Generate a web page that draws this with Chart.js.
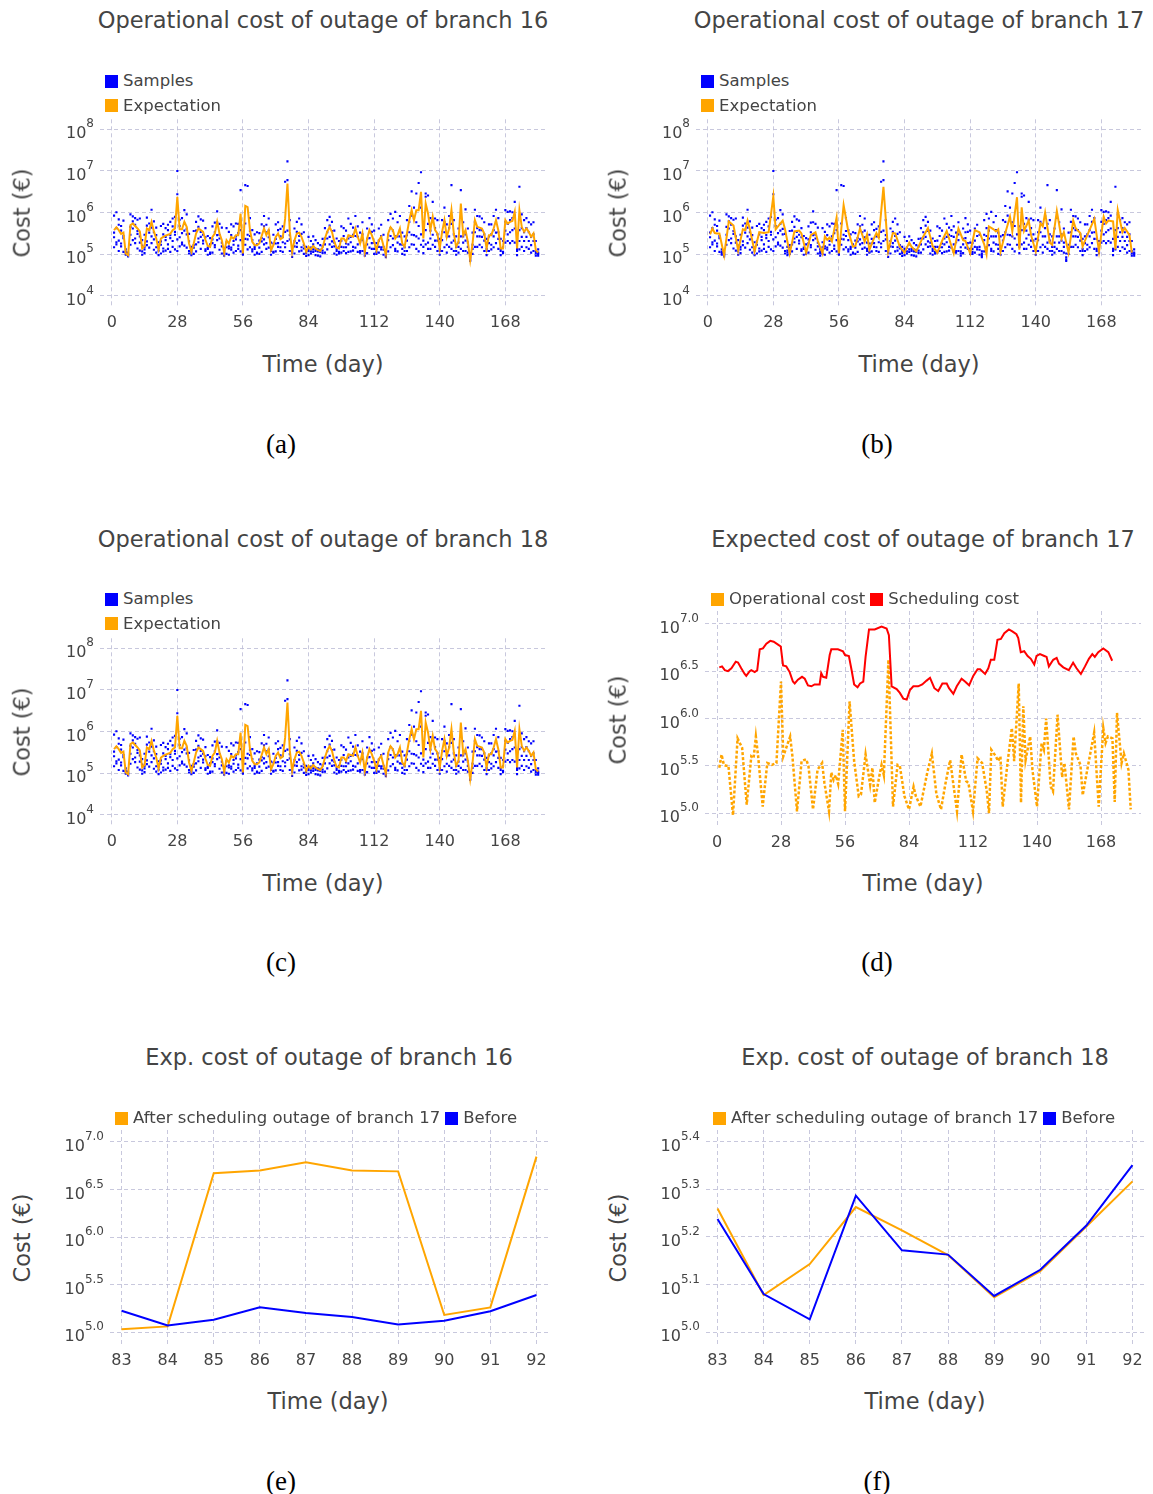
<!DOCTYPE html>
<html>
<head>
<meta charset="utf-8">
<script src="https://cdn.jsdelivr.net/npm/chart.js@4.4.1/dist/chart.umd.min.js"></script>
<style>
  html, body { margin: 0; padding: 0; background: #fff; }
  body { position: relative; width: 1153px; height: 1494px; overflow: hidden;
         font-family: "DejaVu Sans", sans-serif; color: #444; }
  .t { position: absolute; white-space: nowrap; line-height: 1; }
  .c { transform: translate(-50%, -50%); }
  .rot { transform: translate(-50%, -50%) rotate(-90deg); }
  .cap { font-family: "Liberation Serif", "DejaVu Serif", serif; color: #000; font-size: 27px; }
  .leg { position: absolute; display: flex; align-items: center; font-size: 16.5px; line-height: 1; white-space: nowrap; }
  .sw { display: inline-block; width: 13px; height: 13px; margin-right: 5px; }
  canvas { position: absolute; }
</style>
</head>
<body>
<script>
// ---- tick positions ----
const dayTicks = [0, 28, 56, 84, 112, 140, 168];
const weekTicks = [83, 84, 85, 86, 87, 88, 89, 90, 91, 92];
const decadeTicks = [4, 5, 6, 7, 8];
const halfDecadeTicks = [5.0, 5.5, 6.0, 6.5, 7.0];
const tenthTicks = [5.0, 5.1, 5.2, 5.3, 5.4];

// ---- expected operational cost, branch 16 (log10 €), days 1..182 ----
const exp16 = [
  5.58,5.65,5.58,5.49,5.52,5.02,4.98,5.70,5.74,5.68,5.62,5.55,5.14,5.20,
  5.62,5.58,5.78,5.55,5.38,5.12,5.38,5.42,5.45,5.47,5.49,5.58,5.62,6.38,
  5.60,5.60,5.78,5.66,5.26,5.06,5.26,5.50,5.62,5.58,5.54,5.35,5.20,5.18,
  5.42,5.50,5.78,5.50,5.34,5.04,5.34,5.26,5.42,5.38,5.46,5.46,5.98,5.02,
  6.16,6.13,5.58,5.30,5.22,5.22,5.26,5.44,5.62,5.46,5.58,5.10,5.22,5.42,
  5.50,5.36,5.40,5.85,6.70,5.55,5.06,5.34,5.50,5.52,5.42,5.26,5.06,5.18,
  5.12,5.20,5.14,5.10,5.08,5.16,5.38,5.55,5.65,5.54,5.30,5.16,5.14,5.38,
  5.38,5.30,5.46,5.44,5.42,5.62,5.42,5.26,5.50,5.06,5.38,5.58,5.46,5.30,
  5.10,5.34,5.42,5.20,5.00,5.50,5.65,5.58,5.38,5.46,5.62,5.26,5.18,5.50,
  5.82,6.06,5.82,6.06,6.06,6.50,5.38,6.22,5.98,5.58,5.90,5.58,5.50,5.14,
  5.54,5.82,5.42,5.62,6.06,5.50,5.18,5.30,6.22,5.46,5.58,5.30,4.86,5.26,
  5.82,5.66,5.64,5.62,5.50,5.14,5.46,5.46,5.62,5.82,5.58,5.14,5.14,5.82,
  5.74,5.78,5.80,6.02,5.14,6.06,5.66,5.54,5.62,5.54,5.42,5.50,5.10,5.04
];

// ---- expected operational cost, branch 17 (log10 €) ----
const days17 = [1,2,3,4,5,7,9,11,13,15,16,17,18,20,22,24,26,28,29,30,32,33,35,37,39,40,42,44,46,47,
  49,50,51,52,53,55,56,58,60,62,63,65,67,68,69,71,72,73,75,77,79,80,82,84,86,87,89,92,94,96,
  98,100,102,105,107,109,110,112,114,116,118,119,120,122,123,124,125,127,129,130,132,133,134,135,137,
  138,140,142,143,144,146,147,149,151,152,154,156,157,159,160,162,165,167,169,170,171,173,174,175,177,
  178,180,181];
const exp17 = [5.48,5.62,5.51,5.50,5.50,4.98,5.79,5.69,5.09,5.60,5.58,5.81,5.60,5.07,5.53,5.51,5.53,6.39,5.60,5.67,
  5.81,5.60,5.02,5.55,5.57,5.50,5.04,5.46,5.53,5.32,5.02,5.43,5.35,5.40,5.31,5.88,5.02,6.18,5.55,5.18,
  5.20,5.62,5.30,5.48,5.11,5.39,5.51,5.40,6.62,5.07,5.51,5.50,5.18,5.04,5.28,5.18,5.07,5.43,5.63,5.20,
  5.04,5.32,5.56,5.02,5.62,5.34,5.32,5.02,5.58,5.53,5.24,5.00,5.67,5.60,5.55,5.60,5.07,5.51,5.90,5.55,
  6.37,5.11,6.13,5.56,5.81,5.46,5.07,5.74,5.67,6.00,5.28,5.23,6.04,5.38,5.53,5.04,5.81,5.63,5.51,5.19,
  5.46,5.85,5.07,5.90,5.74,5.81,5.79,5.12,6.06,5.53,5.63,5.46,5.04];

// ---- scheduling cost of the branch 17 outage by start day (log10 €) ----
const schedDays = [1.0,2.2,3.4,4.8,6.3,8.2,9.2,10.6,12.1,12.8,14.3,15.0,16.5,17.6,18.7,20.1,21.6,23.3,24.8,26.7,
  27.9,28.9,30.3,31.8,33.2,34.0,35.4,37.2,38.4,39.8,41.3,42.7,44.9,45.6,46.4,47.8,49.3,50.0,52.9,55.1,
  56.0,57.7,58.9,60.0,61.5,62.6,64.0,65.0,66.5,69.0,72.0,74.2,75.2,76.4,78.6,80.0,81.5,83.0,84.4,85.9,
  88.0,89.8,91.7,93.2,95.1,96.8,98.6,100.5,101.5,103.4,104.9,107.0,108.5,110.3,112.1,114.0,115.1,117.3,118.7,119.8,
  121.3,122.7,124.2,125.7,127.7,129.2,131.0,131.8,132.9,134.4,135.9,137.3,138.8,139.8,141.3,143.2,144.2,145.2,147.1,148.6,
  149.6,151.5,153.9,155.8,157.3,159.2,161.0,162.7,164.2,165.3,166.8,169.0,171.2,172.9];
const schedLog = [6.54,6.55,6.51,6.50,6.53,6.60,6.59,6.53,6.47,6.45,6.50,6.51,6.49,6.51,6.73,6.74,6.79,6.82,6.81,6.78,
  6.76,6.56,6.55,6.49,6.39,6.37,6.41,6.44,6.42,6.35,6.34,6.36,6.36,6.48,6.44,6.43,6.67,6.73,6.73,6.71,
  6.67,6.66,6.51,6.36,6.33,6.37,6.39,6.65,6.94,6.94,6.97,6.95,6.88,6.34,6.31,6.27,6.21,6.20,6.30,6.34,
  6.34,6.36,6.40,6.43,6.32,6.29,6.37,6.37,6.32,6.26,6.34,6.42,6.39,6.35,6.45,6.52,6.52,6.47,6.53,6.62,
  6.62,6.83,6.84,6.90,6.94,6.92,6.89,6.85,6.70,6.71,6.66,6.63,6.57,6.66,6.68,6.66,6.65,6.55,6.62,6.64,
  6.58,6.54,6.51,6.59,6.53,6.47,6.55,6.63,6.68,6.65,6.70,6.74,6.70,6.61];

// ---- cost samples per day (log10 €), days 1..182 ----
const samples = [
  [5.93,5.52,5.41,5.17],[6.01,5.63,5.29,5.24],[5.84,5.71,5.33,5.08],[5.68,5.57,5.26,5.19],[5.81,5.39,5.44,5.06],[5.12,5.03,4.99,5.06],[5.04,4.98,4.95,5.01],
  [5.96,5.66,5.47,5.23],[5.91,5.79,5.62,5.34],[5.87,5.71,5.38,5.27],[5.83,5.56,5.49,5.14],[5.86,5.43,5.28,5.09],[5.34,5.21,5.07,4.99],[5.47,5.18,5.12,5.03],
  [5.88,5.69,5.31,5.22],[5.74,5.59,5.52,5.16],[6.07,5.64,5.43,5.27],[5.79,5.53,5.36,5.11],[5.64,5.46,5.17,5.04],[5.29,5.09,5.16,4.98],[5.68,5.31,5.23,5.02],
  [5.73,5.48,5.14,5.07],[5.63,5.42,5.34,5.09],[5.71,5.58,5.24,5.13],[5.78,5.46,5.39,5.06],[5.86,5.67,5.32,5.18],[5.90,5.54,5.47,5.12],[7.00,6.44,5.36,5.08],
  [5.83,5.68,5.41,5.19],[5.87,5.51,5.28,5.24],[6.06,5.73,5.57,5.21],[5.96,5.61,5.48,5.16],[5.49,5.31,5.08,5.02],[5.18,5.04,5.09,4.98],[5.56,5.22,5.16,5.01],
  [5.78,5.57,5.24,5.07],[5.91,5.66,5.38,5.29],[5.84,5.54,5.42,5.13],[5.81,5.47,5.33,5.26],[5.63,5.41,5.12,5.08],[5.44,5.16,5.13,4.99],[5.39,5.24,5.04,5.01],
  [5.67,5.36,5.27,5.04],[5.76,5.53,5.22,5.17],[6.03,5.77,5.46,5.34],[5.73,5.47,5.38,5.11],[5.64,5.28,5.19,5.02],[5.13,5.03,5.07,4.97],[5.63,5.29,5.17,5.01],
  [5.54,5.19,5.14,4.99],[5.72,5.46,5.16,5.11],[5.67,5.32,5.23,5.04],[5.74,5.43,5.36,5.08],[5.73,5.51,5.21,5.13],[6.54,5.58,5.34,5.07],[5.11,5.02,4.99,5.05],
  [6.66,5.74,5.37,5.23],[6.64,5.47,5.36,5.12],[5.87,5.56,5.44,5.17],[5.58,5.34,5.12,5.07],[5.48,5.18,5.13,4.99],[5.53,5.24,5.04,5.02],[5.51,5.33,5.16,5.01],
  [5.72,5.39,5.31,5.06],[5.92,5.67,5.36,5.24],[5.71,5.53,5.27,5.13],[5.86,5.57,5.41,5.16],[5.28,5.08,5.13,4.99],[5.47,5.26,5.06,5.04],[5.72,5.37,5.26,5.07],
  [5.77,5.58,5.27,5.18],[5.61,5.43,5.17,5.08],[5.67,5.42,5.29,5.06],[6.74,5.54,5.26,5.17],[7.23,6.78,5.57,5.32],[5.82,5.46,5.36,5.08],[5.17,5.04,5.08,4.94],
  [5.62,5.32,5.19,5.02],[5.78,5.54,5.27,5.18],[5.86,5.44,5.33,5.07],[5.72,5.49,5.17,5.09],[5.53,5.22,5.14,5.01],[5.18,5.03,5.08,4.96],[5.42,5.13,5.08,4.98],
  [5.32,5.16,5.02,5.07],[5.43,5.24,5.06,5.12],[5.34,5.13,5.08,4.98],[5.27,5.07,5.12,4.97],[5.22,5.06,5.11,4.95],[5.37,5.19,5.03,5.09],[5.63,5.38,5.24,5.04],
  [5.82,5.53,5.38,5.12],[5.90,5.69,5.42,5.24],[5.78,5.56,5.31,5.18],[5.57,5.28,5.19,5.02],[5.38,5.13,5.08,4.99],[5.32,5.18,5.02,5.06],[5.67,5.33,5.18,5.04],
  [5.63,5.44,5.17,5.08],[5.57,5.26,5.17,5.03],[5.86,5.38,5.24,5.06],[5.73,5.42,5.29,5.07],[5.64,5.47,5.18,5.09],[5.92,5.58,5.44,5.16],[5.67,5.42,5.24,5.06],
  [5.52,5.29,5.08,5.04],[5.77,5.48,5.34,5.08],[5.17,5.02,5.07,4.97],[5.62,5.37,5.24,5.03],[5.87,5.53,5.39,5.16],[5.72,5.54,5.27,5.13],[5.57,5.28,5.13,5.01],
  [5.27,5.13,5.01,5.06],[5.62,5.33,5.18,5.04],[5.71,5.44,5.17,5.12],[5.47,5.18,5.11,4.99],[5.07,5.01,4.96,4.93],[5.82,5.47,5.34,5.07],[5.97,5.63,5.44,5.17],
  [5.86,5.57,5.38,5.22],[6.02,5.43,5.13,5.08],[5.77,5.43,5.28,5.07],[5.92,5.58,5.43,5.24],[5.52,5.23,5.13,5.01],[5.43,5.17,5.08,4.99],[5.82,5.46,5.33,5.08],
  [6.16,5.78,5.53,5.17],[6.51,5.93,5.47,5.24],[6.12,5.87,5.46,5.23],[6.46,5.77,5.43,5.13],[6.71,5.68,5.38,5.07],[6.97,6.12,5.48,5.23],[5.67,5.33,5.18,5.03],
  [6.46,6.38,5.58,5.24],[6.41,5.73,5.28,5.13],[5.87,5.57,5.38,5.13],[6.26,5.83,5.47,5.23],[5.86,5.63,5.33,5.18],[5.82,5.48,5.33,5.08],[5.37,5.13,5.08,4.99],
  [5.82,5.53,5.34,5.08],[6.12,5.78,5.53,5.17],[5.72,5.43,5.23,5.04],[5.92,5.63,5.43,5.18],[6.66,5.73,5.28,5.13],[5.82,5.48,5.33,5.08],[5.43,5.18,5.08,4.99],
  [5.62,5.28,5.18,5.04],[6.54,5.88,5.43,5.13],[5.77,5.43,5.28,5.08],[6.08,5.48,5.33,5.08],[5.62,5.28,5.18,5.04],[5.02,4.93,4.88,4.84],[5.52,5.23,5.13,5.01],
  [6.07,5.78,5.53,5.18],[5.92,5.63,5.43,5.18],[5.91,5.58,5.43,5.23],[5.86,5.58,5.42,5.17],[5.77,5.48,5.33,5.08],[5.37,5.13,5.08,4.98],[5.72,5.43,5.27,5.08],
  [5.72,5.48,5.23,5.12],[5.92,5.58,5.43,5.17],[6.07,5.78,5.52,5.27],[5.87,5.53,5.37,5.13],[5.37,5.13,5.08,4.98],[5.32,5.17,5.03,5.06],[6.06,5.78,5.57,5.28],
  [6.02,5.73,5.48,5.32],[6.03,5.82,5.53,5.27],[6.01,5.87,5.58,5.32],[6.26,5.93,5.62,5.28],[5.37,5.13,5.08,4.98],[6.62,5.58,5.32,5.12],[5.96,5.63,5.42,5.18],
  [5.82,5.53,5.32,5.08],[5.87,5.63,5.42,5.17],[5.77,5.53,5.32,5.13],[5.72,5.42,5.22,5.04],[5.77,5.48,5.32,5.08],[5.32,5.08,5.03,4.97],[5.12,5.04,5.01,4.97]
];

// ---- expected cost over the days 83..92 (log10 €) ----
const weekDays = [83, 84, 85, 86, 87, 88, 89, 90, 91, 92];
const after16 = [5.03, 5.06, 6.67, 6.70, 6.785, 6.70, 6.69, 5.18, 5.26, 6.845];
const before16 = [5.225, 5.07, 5.13, 5.26, 5.20, 5.16, 5.08, 5.12, 5.22, 5.39];
const after18 = [5.26, 5.078, 5.143, 5.263, 5.214, 5.162, 5.073, 5.128, 5.222, 5.317];
const before18 = [5.238, 5.08, 5.027, 5.287, 5.172, 5.163, 5.076, 5.131, 5.224, 5.351];

// ---------------------------------------------------------------
const BLUE = '#0000ff', ORANGE = '#ffa500', RED = '#ff0000';
const GRID = 'rgba(190,190,215,0.85)';
const FONT = '"DejaVu Sans", sans-serif';

const pts = (xs, logs) => logs.map((v, i) => ({ x: xs[i], y: Math.pow(10, v) }));
const daily = logs => logs.map((v, i) => ({ x: i + 1, y: Math.pow(10, v) }));
const samplePts = rows => rows.flatMap((r, i) => r.map(v => ({ x: i + 1, y: Math.pow(10, v) })));

function text(str, x, y, cls, size) {
  const d = document.createElement('div');
  d.className = 't ' + cls;
  d.textContent = str;
  d.style.left = x + 'px';
  d.style.top = y + 'px';
  if (size) d.style.fontSize = size + 'px';
  document.body.appendChild(d);
}

function legend(items, x, y, vertical) {
  items.forEach((it, k) => {
    const row = document.createElement('div');
    row.className = 'leg';
    const sw = document.createElement('span');
    sw.className = 'sw';
    sw.style.background = it.color;
    row.appendChild(sw);
    row.appendChild(document.createTextNode(it.label));
    row.style.left = x + 'px';
    row.style.top = (y - 8 + (vertical ? k * 24.5 : 0)) + 'px';
    document.body.appendChild(row);
    if (!vertical) x += row.getBoundingClientRect().width + 5;
  });
}

// tick labels: plain numbers on x, powers of ten with superscript exponent on y
const tickText = {
  id: 'tickText',
  afterDraw(chart, args, opts) {
    const { ctx, chartArea } = chart;
    const xs = chart.scales.x, ys = chart.scales.y;
    ctx.save();
    ctx.fillStyle = '#444';
    ctx.textBaseline = 'middle';
    ctx.font = '16px ' + FONT;
    ctx.textAlign = 'center';
    xs.ticks.forEach(t => ctx.fillText(String(t.value), xs.getPixelForValue(t.value), chartArea.bottom + 17));
    ys.ticks.forEach(t => {
      const sup = Math.log10(t.value).toFixed(opts.dec);
      const y = ys.getPixelForValue(t.value);
      ctx.font = '12px ' + FONT;
      const sw = ctx.measureText(sup).width;
      ctx.font = '16px ' + FONT;
      const bw = ctx.measureText('10').width;
      const right = chartArea.left - 6;
      ctx.textAlign = 'left';
      ctx.fillText('10', right - sw - bw, y + 5);
      ctx.font = '12px ' + FONT;
      ctx.fillText(sup, right - sw, y - 5);
    });
    ctx.restore();
  }
};

function panel(p) {
  const padL = 75, padT = 12, padR = 12, padB = 32;
  const cv = document.createElement('canvas');
  const cx = Math.round(p.L - padL), cy = Math.round(p.T - padT);
  const cw = Math.round(p.R + padR) - cx, ch = Math.round(p.B + padB) - cy;
  cv.width = cw; cv.height = ch;
  cv.style.left = cx + 'px'; cv.style.top = cy + 'px';
  cv.style.width = cw + 'px'; cv.style.height = ch + 'px';
  document.body.appendChild(cv);
  const gridOpts = { color: GRID, lineWidth: 1, drawTicks: false };
  const borderOpts = { display: false, dash: [4, 3] };
  new Chart(cv, {
    type: 'scatter',
    data: { datasets: p.datasets },
    options: {
      responsive: false, animation: false, devicePixelRatio: 1,
      layout: { padding: { left: p.L - cx, top: p.T - cy, right: cx + cw - p.R, bottom: cy + ch - p.B } },
      plugins: { legend: { display: false }, tooltip: { enabled: false }, tickText: { dec: p.dec } },
      scales: {
        x: {
          type: 'linear', min: p.xr[0], max: p.xr[1],
          afterBuildTicks: s => { s.ticks = p.xt.map(v => ({ value: v })); },
          afterFit: s => { s.height = 0; },
          ticks: { display: false }, grid: gridOpts, border: borderOpts
        },
        y: {
          type: 'logarithmic', min: Math.pow(10, p.yr[0]), max: Math.pow(10, p.yr[1]),
          afterBuildTicks: s => { s.ticks = p.yt.map(v => ({ value: Math.pow(10, v) })); },
          afterFit: s => { s.width = 0; },
          ticks: { display: false }, grid: gridOpts, border: borderOpts
        }
      }
    },
    plugins: [tickText]
  });
}

const lineDs = (label, data, color, extra) => Object.assign({
  label, data, showLine: true, borderColor: color, backgroundColor: color,
  borderWidth: 2, pointRadius: 0, tension: 0, order: 0
}, extra || {});
const sampleDs = data => ({
  label: 'Samples', data, showLine: false, pointStyle: 'rect', pointRadius: 1.5,
  pointBorderWidth: 0, backgroundColor: BLUE, borderColor: BLUE, order: 1
});

// ---- (a) operational cost, branch 16 ----
panel({ L: 100, R: 548, T: 119.3, B: 306, xr: [-5, 186.2], yr: [3.76, 8.24], xt: dayTicks, yt: decadeTicks, dec: 0,
  datasets: [lineDs('Expectation', daily(exp16), ORANGE), sampleDs(samplePts(samples))] });
// ---- (b) operational cost, branch 17 ----
panel({ L: 696, R: 1144, T: 119.3, B: 306, xr: [-5, 186.2], yr: [3.76, 8.24], xt: dayTicks, yt: decadeTicks, dec: 0,
  datasets: [lineDs('Expectation', pts(days17, exp17), ORANGE), sampleDs(samplePts(samples))] });
// ---- (c) operational cost, branch 18 ----
panel({ L: 100, R: 548, T: 638.3, B: 825, xr: [-5, 186.2], yr: [3.76, 8.24], xt: dayTicks, yt: decadeTicks, dec: 0,
  datasets: [lineDs('Expectation', daily(exp16), ORANGE), sampleDs(samplePts(samples))] });
// ---- (d) operational vs scheduling cost, branch 17 ----
panel({ L: 705, R: 1141, T: 611, B: 826, xr: [-5.25, 185.5], yr: [4.865, 7.135], xt: dayTicks, yt: halfDecadeTicks, dec: 1,
  datasets: [
    lineDs('Scheduling cost', pts(schedDays, schedLog), RED),
    lineDs('Operational cost', pts(days17, exp17), ORANGE, { borderDash: [3, 2], borderWidth: 2.5, order: 1 })
  ] });
// ---- (e) branch 16 before / after scheduling branch 17 ----
panel({ L: 110, R: 548, T: 1130, B: 1344, xr: [82.75, 92.25], yr: [4.875, 7.125], xt: weekTicks, yt: halfDecadeTicks, dec: 1,
  datasets: [
    lineDs('Before', pts(weekDays, before16), BLUE),
    lineDs('After scheduling outage of branch 17', pts(weekDays, after16), ORANGE, { order: 1 })
  ] });
// ---- (f) branch 18 before / after scheduling branch 17 ----
panel({ L: 706, R: 1144, T: 1130, B: 1344, xr: [82.75, 92.25], yr: [4.975, 5.425], xt: weekTicks, yt: tenthTicks, dec: 1,
  datasets: [
    lineDs('Before', pts(weekDays, before18), BLUE),
    lineDs('After scheduling outage of branch 17', pts(weekDays, after18), ORANGE, { order: 1 })
  ] });

// ---- titles, legends, axis titles, captions ----
text('Operational cost of outage of branch 16', 323, 20, 'c', 22.5);
text('Operational cost of outage of branch 17', 919, 20, 'c', 22.5);
text('Operational cost of outage of branch 18', 323, 539, 'c', 22.5);
text('Expected cost of outage of branch 17', 923, 539, 'c', 22.5);
text('Exp. cost of outage of branch 16', 329, 1057, 'c', 22.5);
text('Exp. cost of outage of branch 18', 925, 1057, 'c', 22.5);

const sampleLegend = [{ label: 'Samples', color: BLUE }, { label: 'Expectation', color: ORANGE }];
legend(sampleLegend, 105, 81, true);
legend(sampleLegend, 701, 81, true);
legend(sampleLegend, 105, 599, true);
legend([{ label: 'Operational cost', color: ORANGE }, { label: 'Scheduling cost', color: RED }], 711, 599, false);
const beforeAfter = [{ label: 'After scheduling outage of branch 17', color: ORANGE }, { label: 'Before', color: BLUE }];
legend(beforeAfter, 115, 1118, false);
legend(beforeAfter, 713, 1118, false);

[[22, 213], [618, 213], [22, 732], [618, 720], [22, 1238], [618, 1238]].forEach(([x, y]) => text('Cost (€)', x, y, 'rot', 22.5));
[[323, 364], [919, 364], [323, 883], [923, 883], [328, 1401], [925, 1401]].forEach(([x, y]) => text('Time (day)', x, y, 'c', 22.5));
[['(a)', 281, 444], ['(b)', 877, 444], ['(c)', 281, 962], ['(d)', 877, 962], ['(e)', 281, 1481], ['(f)', 877, 1481]]
  .forEach(([s, x, y]) => text(s, x, y, 'c cap'));
</script>
</body>
</html>
